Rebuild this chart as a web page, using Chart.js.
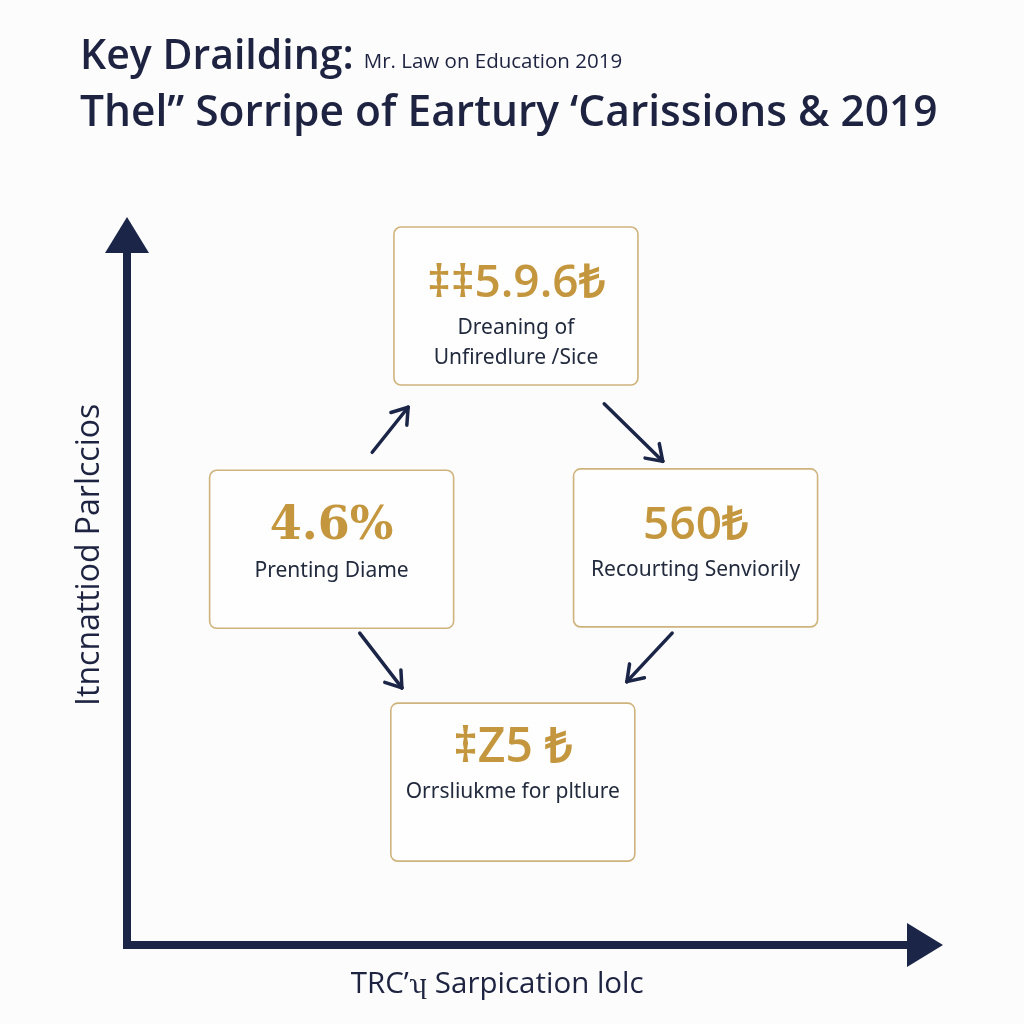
<!DOCTYPE html>
<html>
<head>
<meta charset="utf-8">
<script src="https://cdn.jsdelivr.net/npm/chart.js@4.4.1/dist/chart.umd.min.js"></script>
<style>
  html, body { margin: 0; padding: 0; background: #fcfcfc; }
  canvas { display: block; }
</style>
</head>
<body>
<canvas id="chart" width="1024" height="1024"></canvas>
<script>
// texts
const titleMain = "Key Drailding:";
const titleNote = "Mr. Law on Education 2019";
const titleSecond = "Thel\u201D Sorripe of Eartury \u2018Carissions & 2019";
const xAxisName = "TRC\u2019\u02AE Sarpication lolc";
const yAxisName = "Itncnattiod Parlccios";

// nodes (the four boxes), in axis units 0-100
const nodeValues = ["\u2021\u20215.9.6\u20BA", "4.6%", "560\u20BA", "\u2021Z5 \u20BA"];
const nodeLabels = [["Dreaning of", "Unfiredlure /Sice"], ["Prenting Diame"], ["Recourting Senviorily"], ["Orrsliukme for pltlure"]];
const nodeX = [49.8, 26.2, 72.8, 49.4];
const nodeY = [92.2, 57.1, 57.3, 23.5];

// arrows between the boxes, axis units
const arrowStartX = [31.4, 61.1, 29.8, 69.8];
const arrowStartY = [71.1, 78.1, 45.0, 45.0];
const arrowEndX = [36.0, 68.6, 35.2, 64.0];
const arrowEndY = [77.6, 69.8, 37.1, 38.0];

const navy = "#1b2547";
const inkColor = "#1d2340";
const gold = "#c4973f";
const goldBorder = "#cfb37c";
const boxWidth = 244;
const boxHeight = 158;
const contentShift = [0, 0, 0, -12];
const valueFonts = [
  "600 46px 'Open Sans'",
  "700 46px 'DejaVu Serif'",
  "600 46px 'Open Sans'",
  "600 48px 'Open Sans'"
];

const chartBackground = {
  id: "chartBackground",
  beforeDraw(chart) {
    const ctx = chart.ctx;
    ctx.save();
    ctx.fillStyle = "#fcfcfc";
    ctx.fillRect(0, 0, chart.width, chart.height);
    ctx.restore();
  }
};

const headerText = {
  id: "headerText",
  afterDraw(chart) {
    const ctx = chart.ctx;
    ctx.save();
    ctx.fillStyle = inkColor;
    ctx.textAlign = "left";
    ctx.textBaseline = "alphabetic";
    ctx.font = "600 41px 'Open Sans'";
    ctx.fillText(titleMain, 80, 69);
    const w = ctx.measureText(titleMain).width;
    ctx.font = "400 20.5px 'Open Sans'";
    ctx.fillText(titleNote, 80 + w + 10, 68);
    ctx.font = "600 42.5px 'Open Sans'";
    ctx.fillText(titleSecond, 80, 126);
    ctx.restore();
  }
};

// axis names, placed off-centre like the reference
const axisNames = {
  id: "axisNames",
  afterDraw(chart) {
    const { ctx, chartArea: a } = chart;
    ctx.save();
    ctx.fillStyle = inkColor;
    ctx.textAlign = "center";
    ctx.textBaseline = "middle";
    ctx.font = "400 29.5px 'Open Sans'";
    ctx.fillText(xAxisName, a.left + a.width * 0.474, a.bottom + 40);
    ctx.translate(a.left - 37, a.top + a.height * 0.437);
    ctx.rotate(-Math.PI / 2);
    ctx.font = "400 32px 'Open Sans'";
    ctx.fillText(yAxisName, 0, 0);
    ctx.restore();
  }
};

const axisArrows = {
  id: "axisArrows",
  afterDraw(chart) {
    const { ctx, chartArea: a } = chart;
    ctx.save();
    ctx.fillStyle = navy;
    // y axis head
    ctx.beginPath();
    ctx.moveTo(a.left, a.top - 35);
    ctx.lineTo(a.left - 22, a.top + 1);
    ctx.lineTo(a.left + 22, a.top + 1);
    ctx.closePath();
    ctx.fill();
    // x axis head
    ctx.beginPath();
    ctx.moveTo(a.right + 35, a.bottom);
    ctx.lineTo(a.right - 1, a.bottom - 22);
    ctx.lineTo(a.right - 1, a.bottom + 22);
    ctx.closePath();
    ctx.fill();
    ctx.restore();
  }
};

const nodeBoxes = {
  id: "nodeBoxes",
  afterDatasetsDraw(chart) {
    const ctx = chart.ctx;
    const pts = chart.getDatasetMeta(0).data;
    ctx.save();
    pts.forEach((pt, i) => {
      const left = pt.x - boxWidth / 2;
      const top = pt.y - boxHeight / 2;
      ctx.beginPath();
      ctx.roundRect(left, top, boxWidth, boxHeight, 7);
      ctx.fillStyle = "#fefefe";
      ctx.fill();
      ctx.lineWidth = 1.6;
      ctx.strokeStyle = goldBorder;
      ctx.stroke();
      ctx.textAlign = "center";
      ctx.textBaseline = "middle";
      ctx.fillStyle = gold;
      ctx.font = valueFonts[i];
      ctx.fillText(nodeValues[i], pt.x, top + 57 + contentShift[i]);
      ctx.fillStyle = "#222a3d";
      ctx.font = "400 21px 'Noto Sans'";
      nodeLabels[i].forEach((line, j) => {
        ctx.fillText(line, pt.x, top + 101 + contentShift[i] + j * 30);
      });
    });
    ctx.restore();
  }
};

const arrowHeads = {
  id: "arrowHeads",
  afterDatasetsDraw(chart) {
    const ctx = chart.ctx;
    ctx.save();
    ctx.strokeStyle = navy;
    ctx.lineWidth = 3.5;
    ctx.lineCap = "round";
    chart.data.datasets.forEach((ds, i) => {
      if (ds.label !== "arrow") return;
      const pts = chart.getDatasetMeta(i).data;
      const a = pts[0], b = pts[1];
      const ang = Math.atan2(b.y - a.y, b.x - a.x);
      [0.6, -0.6].forEach((d) => {
        ctx.beginPath();
        ctx.moveTo(b.x, b.y);
        ctx.lineTo(b.x - 18 * Math.cos(ang + d), b.y - 18 * Math.sin(ang + d));
        ctx.stroke();
      });
    });
    ctx.restore();
  }
};

const datasets = [
  {
    label: "nodes",
    data: nodeX.map((x, i) => ({ x: x, y: nodeY[i] })),
    pointRadius: 0
  }
];
arrowStartX.forEach((x, i) => {
  datasets.push({
    label: "arrow",
    data: [{ x: x, y: arrowStartY[i] }, { x: arrowEndX[i], y: arrowEndY[i] }],
    showLine: true,
    pointRadius: 0,
    borderColor: navy,
    borderWidth: 3.5,
    borderCapStyle: "round"
  });
});

new Chart(document.getElementById("chart"), {
  type: "scatter",
  data: { datasets: datasets },
  options: {
    responsive: false,
    animation: false,
    layout: { padding: { left: 127, right: 116, top: 252, bottom: 79 } },
    plugins: {
      legend: { display: false },
      tooltip: { enabled: false }
    },
    scales: {
      x: {
        type: "linear", min: 0, max: 100,
        grid: { display: false, drawTicks: false },
        ticks: { display: false },
        border: { display: true, color: navy, width: 8 },
        title: { display: false, text: xAxisName }
      },
      y: {
        type: "linear", min: 0, max: 100,
        grid: { display: false, drawTicks: false },
        ticks: { display: false },
        border: { display: true, color: navy, width: 8 },
        title: { display: false, text: yAxisName }
      }
    }
  },
  plugins: [chartBackground, nodeBoxes, arrowHeads, axisArrows, axisNames, headerText]
});
</script>
</body>
</html>
